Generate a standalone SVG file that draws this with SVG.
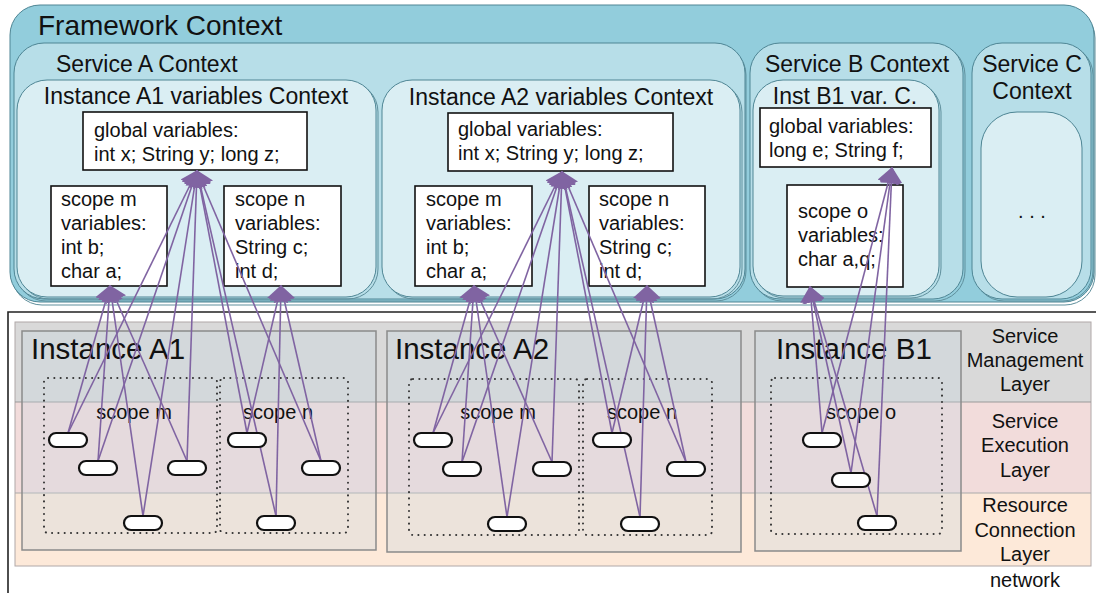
<svg xmlns="http://www.w3.org/2000/svg" width="1096" height="593" viewBox="0 0 1096 593">
<defs>
<style>
text{font-family:"Liberation Sans",Arial,sans-serif;fill:#111}
.ctx{stroke:#4e8594;stroke-width:1}
.shd{fill:none;stroke:#5f8f9c;stroke-width:1}
.box{fill:#fff;stroke:#111;stroke-width:1.6}
.bt{font-size:20px}
.ct{font-size:23px}
.inst{fill:#c8d8e0;fill-opacity:0.3;stroke:#8a8a8a;stroke-width:1.5}
.dot{fill:none;stroke:#333;stroke-width:2;stroke-dasharray:0.1 6.2;stroke-linecap:round}
.pill{fill:#fff;stroke:#111;stroke-width:2.2}
.lay{font-size:20px;text-anchor:middle}
#conn line{stroke:#8064a2;stroke-width:1.6;marker-end:url(#ah)}
</style>
<marker id="ah" markerUnits="userSpaceOnUse" markerWidth="16" markerHeight="22" viewBox="0 0 16 22" refX="15" refY="11" orient="auto">
<path d="M0,0 L16,11 L0,22 z" fill="#8064a2"/>
</marker>
</defs>
<rect width="1096" height="593" fill="#fff"/>

<g id="framework">
<rect x="12" y="8" width="1083" height="297" rx="30" class="shd"/>
<rect x="10" y="5" width="1084" height="297" rx="30" fill="#92cddc" class="ctx"/>
<text x="38" y="35" font-size="28">Framework Context</text>
</g>

<g id="serviceA">
<rect x="16" y="45" width="730" height="256" rx="30" class="shd"/>
<rect x="14" y="43" width="731" height="256" rx="30" fill="#b7dee8" class="ctx"/>
<text x="56" y="72" class="ct">Service A Context</text>
</g>

<g id="instA1ctx">
<rect x="19" y="82" width="359" height="217" rx="30" class="shd"/>
<rect x="17" y="80" width="359" height="217" rx="30" fill="#daeef3" class="ctx"/>
<text x="196" y="104" class="ct" text-anchor="middle">Instance A1 variables Context</text>
</g>
<g id="globalA1">
<rect x="83" y="112" width="224" height="58" class="box"/>
<text x="94" y="137" class="bt">global variables:</text>
<text x="94" y="161" class="bt">int x; String y; long z;</text>
</g>
<g id="scopeMA1">
<rect x="51" y="186" width="116" height="100" class="box"/>
<text x="61" y="206" class="bt">scope m</text>
<text x="61" y="230" class="bt">variables:</text>
<text x="61" y="254" class="bt">int b;</text>
<text x="61" y="278" class="bt">char a;</text>
</g>
<g id="scopeNA1">
<rect x="224" y="186" width="117" height="100" class="box"/>
<text x="235" y="206" class="bt">scope n</text>
<text x="235" y="230" class="bt">variables:</text>
<text x="235" y="254" class="bt">String c;</text>
<text x="235" y="278" class="bt">int d;</text>
</g>

<g id="instA2ctx">
<rect x="384" y="82" width="358" height="217" rx="30" class="shd"/>
<rect x="382" y="80" width="358" height="217" rx="30" fill="#daeef3" class="ctx"/>
<text x="561" y="105" class="ct" text-anchor="middle">Instance A2 variables Context</text>
</g>
<g id="globalA2">
<rect x="448" y="113" width="225" height="58" class="box"/>
<text x="458" y="136" class="bt">global variables:</text>
<text x="458" y="160" class="bt">int x; String y; long z;</text>
</g>
<g id="scopeMA2">
<rect x="415" y="186" width="117" height="100" class="box"/>
<text x="426" y="206" class="bt">scope m</text>
<text x="426" y="230" class="bt">variables:</text>
<text x="426" y="254" class="bt">int b;</text>
<text x="426" y="278" class="bt">char a;</text>
</g>
<g id="scopeNA2">
<rect x="589" y="186" width="116" height="100" class="box"/>
<text x="599" y="206" class="bt">scope n</text>
<text x="599" y="230" class="bt">variables:</text>
<text x="599" y="254" class="bt">String c;</text>
<text x="599" y="278" class="bt">int d;</text>
</g>

<g id="serviceB">
<rect x="752" y="45" width="213" height="256" rx="30" class="shd"/>
<rect x="750" y="43" width="213" height="256" rx="30" fill="#b7dee8" class="ctx"/>
<text x="857" y="72" class="ct" text-anchor="middle">Service B Context</text>
</g>
<g id="instB1ctx">
<rect x="755" y="82" width="186" height="216" rx="30" class="shd"/>
<rect x="753" y="80" width="186" height="216" rx="30" fill="#daeef3" class="ctx"/>
<text x="845" y="104" class="ct" text-anchor="middle">Inst B1 var. C.</text>
</g>
<g id="globalB1">
<rect x="760" y="108" width="171" height="59" class="box"/>
<text x="769" y="133" class="bt">global variables:</text>
<text x="769" y="157" class="bt">long e; String f;</text>
</g>
<g id="scopeOB1">
<rect x="787" y="185" width="116" height="102" class="box"/>
<text x="798" y="218" class="bt">scope o</text>
<text x="798" y="242" class="bt">variables:</text>
<text x="798" y="266" class="bt">char a,q;</text>
</g>

<g id="serviceC">
<rect x="974" y="45" width="119" height="256" rx="30" class="shd"/>
<rect x="972" y="43" width="119" height="256" rx="30" fill="#b7dee8" class="ctx"/>
<text x="1032" y="72" class="ct" text-anchor="middle">Service C</text>
<text x="1032" y="99" class="ct" text-anchor="middle">Context</text>
<rect x="981" y="112" width="101" height="185" rx="36" fill="#daeef3" class="ctx"/>
<text x="1032" y="218" font-size="20" text-anchor="middle">. . .</text>
</g>

<g id="layers">
<path d="M8,593 L8,312 L1096,312" fill="none" stroke="#222" stroke-width="1.6"/>
<rect x="15" y="322" width="1076" height="80" fill="#d9d9d9"/>
<rect x="15" y="402" width="1076" height="91" fill="#f2dcdb"/>
<rect x="15" y="493" width="1076" height="73" fill="#fde9d9"/>
<rect x="15" y="322" width="1076" height="244" fill="none" stroke="#b0a8a8" stroke-width="1"/>
<line x1="15" y1="402" x2="1091" y2="402" stroke="#999" stroke-width="1"/>
<line x1="15" y1="493" x2="1091" y2="493" stroke="#aaa" stroke-width="1"/>
<text x="1025" y="343" class="lay">Service</text>
<text x="1025" y="367" class="lay">Management</text>
<text x="1025" y="391" class="lay">Layer</text>
<text x="1025" y="428" class="lay">Service</text>
<text x="1025" y="452" class="lay">Execution</text>
<text x="1025" y="477" class="lay">Layer</text>
<text x="1025" y="512" class="lay">Resource</text>
<text x="1025" y="537" class="lay">Connection</text>
<text x="1025" y="561" class="lay">Layer</text>
<text x="1025" y="587" class="lay">network</text>
</g>

<g id="instanceA1">
<rect x="22" y="331" width="354" height="219" class="inst"/>
<text x="31" y="359" font-size="29.5">Instance A1</text>
<rect x="44" y="378" width="173" height="155" rx="4" class="dot"/>
<rect x="220" y="378" width="128" height="155" rx="4" class="dot"/>
<text x="134" y="419" class="bt" text-anchor="middle">scope m</text>
<text x="278" y="419" class="bt" text-anchor="middle">scope n</text>
</g>

<g id="instanceA2">
<rect x="387" y="331" width="354" height="221" class="inst"/>
<text x="395" y="359" font-size="29.5">Instance A2</text>
<rect x="409" y="379" width="170" height="156" rx="4" class="dot"/>
<rect x="583" y="379" width="129" height="156" rx="4" class="dot"/>
<text x="498" y="419" class="bt" text-anchor="middle">scope m</text>
<text x="642" y="419" class="bt" text-anchor="middle">scope n</text>
</g>

<g id="instanceB1">
<rect x="755" y="331" width="206" height="220" class="inst"/>
<text x="776" y="359" font-size="29.5">Instance B1</text>
<rect x="771" y="378" width="171" height="156" rx="4" class="dot"/>
<text x="861" y="419" class="bt" text-anchor="middle">scope o</text>
</g>

<g id="conn">
<line x1="68" y1="433" x2="110" y2="286"/>
<line x1="68" y1="433" x2="197" y2="171"/>
<line x1="98" y1="461" x2="110" y2="286"/>
<line x1="98" y1="461" x2="197" y2="171"/>
<line x1="187" y1="461" x2="110" y2="286"/>
<line x1="187" y1="461" x2="197" y2="171"/>
<line x1="143" y1="516" x2="110" y2="286"/>
<line x1="143" y1="516" x2="197" y2="171"/>
<line x1="247" y1="433" x2="281" y2="286"/>
<line x1="247" y1="433" x2="197" y2="171"/>
<line x1="321" y1="461" x2="281" y2="286"/>
<line x1="321" y1="461" x2="197" y2="171"/>
<line x1="276" y1="516" x2="281" y2="286"/>
<line x1="276" y1="516" x2="197" y2="171"/>

<line x1="433" y1="433" x2="474" y2="286"/>
<line x1="433" y1="433" x2="562" y2="172"/>
<line x1="462" y1="462" x2="474" y2="286"/>
<line x1="462" y1="462" x2="562" y2="172"/>
<line x1="552" y1="462" x2="474" y2="286"/>
<line x1="552" y1="462" x2="562" y2="172"/>
<line x1="507" y1="517" x2="474" y2="286"/>
<line x1="507" y1="517" x2="562" y2="172"/>
<line x1="612" y1="433" x2="647" y2="286"/>
<line x1="612" y1="433" x2="562" y2="172"/>
<line x1="686" y1="462" x2="647" y2="286"/>
<line x1="686" y1="462" x2="562" y2="172"/>
<line x1="640" y1="517" x2="647" y2="286"/>
<line x1="640" y1="517" x2="562" y2="172"/>

<line x1="822" y1="433" x2="810" y2="287"/>
<line x1="822" y1="433" x2="892" y2="168"/>
<line x1="851" y1="473" x2="810" y2="287"/>
<line x1="851" y1="473" x2="892" y2="168"/>
<line x1="877" y1="516" x2="810" y2="287"/>
<line x1="877" y1="516" x2="892" y2="168"/>
</g>

<g id="pillsA1">
<rect x="49" y="433" width="38" height="14" rx="7" class="pill"/>
<rect x="79" y="461" width="38" height="14" rx="7" class="pill"/>
<rect x="168" y="461" width="38" height="14" rx="7" class="pill"/>
<rect x="124" y="516" width="38" height="14" rx="7" class="pill"/>
<rect x="228" y="433" width="38" height="14" rx="7" class="pill"/>
<rect x="302" y="461" width="38" height="14" rx="7" class="pill"/>
<rect x="257" y="516" width="38" height="14" rx="7" class="pill"/>
</g>
<g id="pillsA2">
<rect x="414" y="433" width="38" height="14" rx="7" class="pill"/>
<rect x="443" y="462" width="38" height="14" rx="7" class="pill"/>
<rect x="533" y="462" width="38" height="14" rx="7" class="pill"/>
<rect x="488" y="517" width="38" height="14" rx="7" class="pill"/>
<rect x="593" y="433" width="38" height="14" rx="7" class="pill"/>
<rect x="667" y="462" width="38" height="14" rx="7" class="pill"/>
<rect x="621" y="517" width="38" height="14" rx="7" class="pill"/>
</g>
<g id="pillsB1">
<rect x="803" y="433" width="38" height="14" rx="7" class="pill"/>
<rect x="832" y="473" width="38" height="14" rx="7" class="pill"/>
<rect x="858" y="516" width="38" height="14" rx="7" class="pill"/>
</g>
</svg>
